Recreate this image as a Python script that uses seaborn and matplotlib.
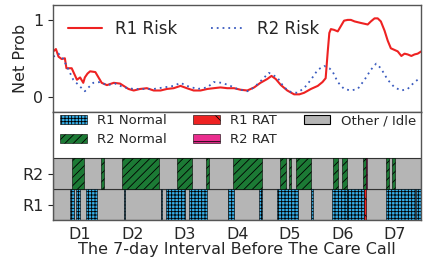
import numpy as np
import pandas as pd
import seaborn as sns
import matplotlib.pyplot as plt
import matplotlib.patches as mpatches

# risk curves (day, value)
r1_day = [0.00, 0.05, 0.10, 0.16, 0.22, 0.25, 0.35, 0.45, 0.51, 0.57, 0.60, 0.65, 0.70, 0.80, 0.86,
          0.92, 1.02, 1.15, 1.27, 1.43, 1.53, 1.65, 1.78, 1.91, 2.04, 2.16, 2.29, 2.42, 2.54, 2.67,
          2.80, 2.93, 3.05, 3.18, 3.31, 3.44, 3.56, 3.69, 3.82, 3.94, 4.07, 4.15, 4.23, 4.33, 4.45,
          4.58, 4.68, 4.77, 4.90, 5.03, 5.12, 5.18, 5.22, 5.25, 5.28, 5.34, 5.41, 5.47, 5.53, 5.60,
          5.66, 5.73, 5.85, 5.98, 6.04, 6.11, 6.17, 6.23, 6.30, 6.36, 6.42, 6.55, 6.62, 6.68, 6.74,
          6.81, 6.87, 6.93, 7.00]
r1_risk = [0.59, 0.62, 0.52, 0.49, 0.50, 0.37, 0.37, 0.22, 0.25, 0.18, 0.25, 0.30, 0.33, 0.32, 0.25,
           0.18, 0.15, 0.18, 0.17, 0.10, 0.08, 0.10, 0.11, 0.08, 0.08, 0.10, 0.11, 0.14, 0.11, 0.08,
           0.08, 0.10, 0.11, 0.12, 0.11, 0.11, 0.09, 0.08, 0.12, 0.18, 0.23, 0.27, 0.23, 0.15, 0.08,
           0.03, 0.03, 0.05, 0.10, 0.14, 0.19, 0.24, 0.59, 0.83, 0.88, 0.87, 0.85, 0.92, 0.99, 1.00,
           1.00, 0.98, 0.96, 0.94, 0.98, 1.02, 1.02, 0.98, 0.86, 0.73, 0.63, 0.59, 0.53, 0.56, 0.55,
           0.53, 0.55, 0.56, 0.59]

r2_day = [0.00, 0.10, 0.19, 0.29, 0.38, 0.51, 0.60, 0.67, 0.76, 0.89, 1.02, 1.18, 1.34, 1.53, 1.72,
          1.91, 2.10, 2.29, 2.42, 2.54, 2.74, 2.93, 3.05, 3.21, 3.37, 3.50, 3.69, 3.82, 3.94, 4.10,
          4.26, 4.39, 4.52, 4.64, 4.77, 4.90, 5.03, 5.15, 5.25, 5.31, 5.41, 5.53, 5.66, 5.79, 5.92,
          6.04, 6.14, 6.23, 6.36, 6.49, 6.62, 6.74, 6.87, 6.97]
r2_risk = [0.52, 0.56, 0.49, 0.35, 0.22, 0.13, 0.07, 0.12, 0.18, 0.19, 0.15, 0.17, 0.12, 0.10, 0.10,
           0.10, 0.12, 0.14, 0.18, 0.14, 0.10, 0.12, 0.19, 0.18, 0.14, 0.10, 0.07, 0.12, 0.20, 0.31,
           0.25, 0.12, 0.06, 0.05, 0.11, 0.22, 0.35, 0.40, 0.37, 0.33, 0.19, 0.10, 0.08, 0.10, 0.22,
           0.35, 0.43, 0.37, 0.22, 0.12, 0.08, 0.10, 0.19, 0.24]

# activity segments (start day, end day)
r1_normal_start = [0.32, 0.43, 0.62, 1.34, 2.04, 2.15, 2.58, 3.33, 3.91, 4.26, 4.90, 5.31, 5.58, 6.33, 6.90]
r1_normal_end = [0.40, 0.50, 0.83, 1.37, 2.07, 2.51, 2.93, 3.44, 3.96, 4.66, 4.94, 5.58, 5.90, 6.87, 7.00]
r1_rat_start = [5.90]
r1_rat_end = [5.95]
r2_normal_start = [0.36, 0.91, 1.31, 2.36, 2.91, 3.41, 4.31, 4.48, 4.61, 5.32, 5.50, 5.89, 6.33, 6.44]
r2_normal_end = [0.59, 0.96, 2.01, 2.63, 2.96, 3.96, 4.42, 4.53, 4.91, 5.41, 5.58, 5.95, 6.38, 6.50]
r2_rat_start = [5.955]
r2_rat_end = [5.975]

row_labels = ["R1", "R2"]
day_labels = ["D1", "D2", "D3", "D4", "D5", "D6", "D7"]

sns.set_style("ticks")
plt.rcParams["hatch.linewidth"] = 0.6

fig = plt.figure(figsize=(4.25, 2.64), dpi=100)
ax1 = fig.add_axes([0.1254, 0.5758, 0.8660, 0.4070])
ax2 = fig.add_axes([0.1254, 0.1667, 0.8660, 0.4091])

# =========================
# top: risk lines
# =========================
sns.lineplot(x=r1_day, y=r1_risk, ax=ax1, color="#ee2222", lw=1.5, label="R1 Risk")
sns.lineplot(x=r2_day, y=r2_risk, ax=ax1, color="#3a5bbf", lw=1.3, linestyle=(0, (1, 2.2)),
             label="R2 Risk")
ax1.set_xlim(0, 7)
ax1.set_ylim(-0.2, 1.2)
ax1.set_yticks([0, 1])
ax1.set_yticklabels(["0", "1"], fontsize=11.5)
ax1.set_xticks([])
ax1.set_ylabel("Net Prob", fontsize=11.5)
ax1.legend(loc="upper left", ncol=2, frameon=False, fontsize=12, handlelength=2)

# =========================
# bottom: activity bars
# =========================
gray = "#b5b5b5"
for row in range(2):
    ax2.barh(row, 7, left=0, height=1, color=gray, edgecolor="#333333", lw=0.8)

def draw(row, starts, ends, color, hatch):
    s = np.array(starts)
    w = np.array(ends) - s
    ax2.barh([row] * len(s), w, left=s, height=1, color=color, hatch=hatch,
             edgecolor="black", lw=0.4)

blue = "#35aee8"
green = "#1c7a35"
red = "#ee2222"
pink = "#ea2d8e"
draw(0, r1_normal_start, r1_normal_end, blue, "+++++")
draw(0, r1_rat_start, r1_rat_end, red, "\\\\")
draw(1, r2_normal_start, r2_normal_end, green, "////")
draw(1, r2_rat_start, r2_rat_end, pink, "-")

ax2.set_xlim(0, 7)
ax2.set_ylim(-0.5, 3.0)
ax2.set_yticks([0, 1])
ax2.set_yticklabels(row_labels, fontsize=11.5)
ax2.set_xticks(np.arange(7) + 0.5)
ax2.set_xticklabels(day_labels, fontsize=11.5)
ax2.tick_params(axis="x", length=0, pad=5)
ax2.set_xlabel("The 7-day Interval Before The Care Call", fontsize=11.5, labelpad=0)

handles = [
    mpatches.Patch(facecolor=blue, hatch="+++++", edgecolor="black", lw=0.4, label="R1 Normal"),
    mpatches.Patch(facecolor=green, hatch="////", edgecolor="black", lw=0.4, label="R2 Normal"),
    mpatches.Patch(facecolor=red, hatch="\\", edgecolor="black", lw=0.4, label="R1 RAT"),
    mpatches.Patch(facecolor=pink, hatch="-", edgecolor="black", lw=0.4, label="R2 RAT"),
    mpatches.Patch(facecolor=gray, edgecolor="black", lw=0.8, label="Other / Idle"),
]
ax2.legend(handles=handles, loc="upper left", bbox_to_anchor=(0.005, 1.03), ncol=3,
           frameon=False, fontsize=9.5, borderaxespad=0, labelspacing=0.45, columnspacing=2.0)

for ax in (ax1, ax2):
    for sp in ax.spines.values():
        sp.set_color("#555555")
        sp.set_linewidth(1.0)

fig.savefig("out.png", dpi=100)
